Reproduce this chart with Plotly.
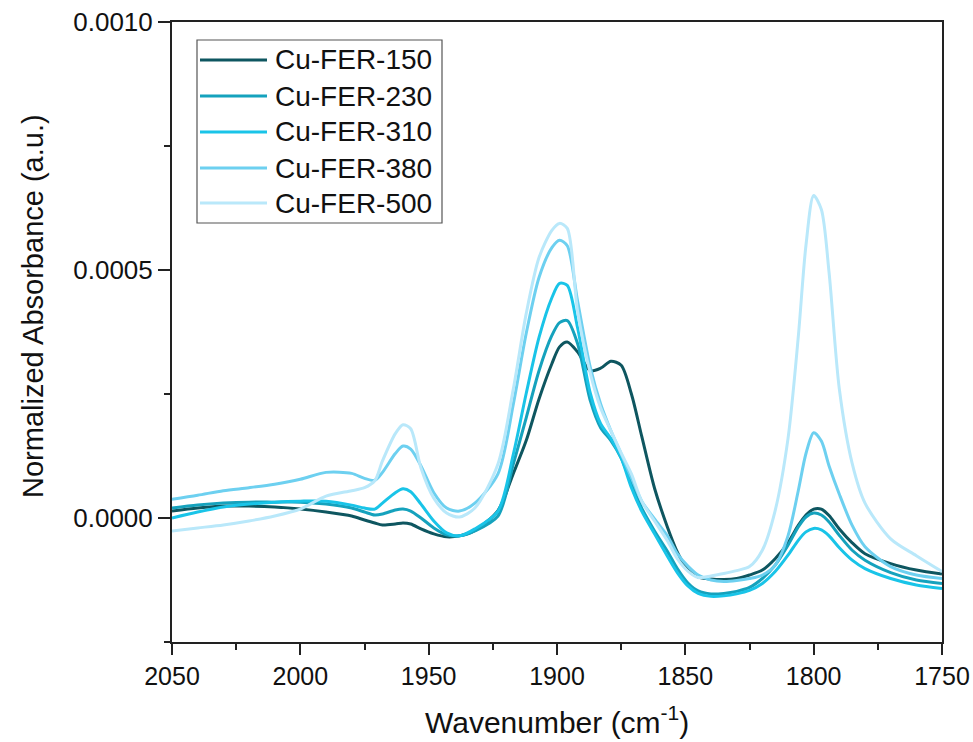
import numpy as np
import plotly.graph_objects as go

# Wavenumber grid (cm^-1), descending
wavenumber = [2050, 2040, 2030, 2020, 2010, 2000, 1990, 1980, 1975, 1971,
              1968, 1963, 1960, 1957, 1953, 1948, 1943, 1938, 1932, 1923,
              1917, 1912, 1907, 1902, 1899, 1896, 1892, 1887, 1883, 1879,
              1875, 1871, 1867, 1862, 1857, 1853, 1849, 1845, 1840, 1835,
              1830, 1825, 1820, 1815, 1810, 1806, 1803, 1800, 1797, 1794,
              1790, 1785, 1780, 1770, 1760, 1750]

# Normalized absorbance, in units of 1e-4
cu_fer_150 = [0.14, 0.20, 0.24, 0.24, 0.22, 0.18, 0.12, 0.04, -0.04, -0.10,
              -0.14, -0.12, -0.10, -0.12, -0.22, -0.32, -0.38, -0.36, -0.25, 0.15,
              0.90, 1.56, 2.40, 3.11, 3.45, 3.55, 3.35, 2.97, 3.02, 3.16,
              3.08, 2.50, 1.65, 0.60, -0.18, -0.70, -1.05, -1.19, -1.23, -1.24,
              -1.22, -1.15, -1.05, -0.82, -0.50, -0.15, 0.06, 0.18, 0.18, 0.05,
              -0.22, -0.50, -0.72, -0.92, -1.05, -1.13]

cu_fer_230 = [0.20, 0.26, 0.30, 0.32, 0.32, 0.32, 0.28, 0.20, 0.12, 0.06,
              0.08, 0.16, 0.18, 0.14, 0.00, -0.20, -0.34, -0.36, -0.26, 0.04,
              1.09, 2.02, 2.97, 3.68, 3.94, 3.98, 3.52, 2.36, 1.82, 1.56,
              1.21, 0.69, 0.20, -0.26, -0.67, -1.03, -1.31, -1.47, -1.53, -1.52,
              -1.48, -1.40, -1.22, -0.95, -0.55, -0.18, 0.02, 0.10, 0.06, -0.08,
              -0.35, -0.65, -0.85, -1.10, -1.25, -1.32]

cu_fer_310 = [0.00, 0.12, 0.22, 0.28, 0.32, 0.34, 0.34, 0.26, 0.20, 0.18,
              0.30, 0.51, 0.59, 0.53, 0.28, -0.06, -0.30, -0.36, -0.22, 0.14,
              1.29, 2.51, 3.64, 4.44, 4.73, 4.69, 3.84, 2.51, 1.90, 1.60,
              1.21, 0.61, 0.14, -0.32, -0.77, -1.11, -1.37, -1.52, -1.58, -1.57,
              -1.53, -1.46, -1.32, -1.08, -0.75, -0.45, -0.28, -0.21, -0.24, -0.36,
              -0.60, -0.85, -1.02, -1.22, -1.35, -1.42]

cu_fer_380 = [0.38, 0.46, 0.55, 0.61, 0.68, 0.78, 0.92, 0.90, 0.80, 0.76,
              0.92, 1.30, 1.45, 1.39, 1.05, 0.51, 0.20, 0.14, 0.30, 0.89,
              2.30, 3.72, 4.85, 5.45, 5.60, 5.49, 4.38, 3.03, 2.30, 1.76,
              1.29, 0.81, 0.34, -0.02, -0.36, -0.73, -0.97, -1.15, -1.25, -1.28,
              -1.26, -1.22, -1.15, -0.95, -0.36, 0.55, 1.30, 1.72, 1.55, 1.05,
              0.48, -0.15, -0.58, -0.98, -1.15, -1.22]

cu_fer_500 = [-0.26, -0.20, -0.14, -0.06, 0.04, 0.18, 0.44, 0.55, 0.61, 0.75,
              1.15, 1.70, 1.88, 1.80, 1.01, 0.40, 0.10, 0.02, 0.20, 1.09,
              2.61, 4.12, 5.25, 5.80, 5.94, 5.84, 4.18, 2.91, 2.22, 1.76,
              1.31, 0.89, 0.34, -0.06, -0.46, -0.83, -1.07, -1.20, -1.17, -1.12,
              -1.06, -0.98, -0.65, 0.15, 1.60, 3.65, 5.50, 6.50, 6.22, 4.95,
              2.60, 1.10, 0.30, -0.42, -0.76, -1.08]

series_names = ["Cu-FER-150", "Cu-FER-230", "Cu-FER-310", "Cu-FER-380", "Cu-FER-500"]
series_values = [cu_fer_150, cu_fer_230, cu_fer_310, cu_fer_380, cu_fer_500]
series_colors = ["#0e5660", "#15a2bd", "#19c4e8", "#6dd0f0", "#b9e8fa"]

y_tick_values = [0.0, 0.0005, 0.0010]
y_tick_labels = ["0.0000", "0.0005", "0.0010"]
x_tick_values = [2050, 2000, 1950, 1900, 1850, 1800, 1750]

FONT = "Arial, Liberation Sans, sans-serif"
W, H = 973, 742
ML, MR, MT, MB = 172, 31, 22, 100
PW, PH = W - ML - MR, H - MT - MB


def px_x(px):
    return (px - ML) / PW


def px_y(py):
    return (H - MB - py) / PH


fig = go.Figure()
for name, vals, col in zip(series_names, series_values, series_colors):
    fig.add_trace(go.Scatter(
        x=wavenumber, y=np.array(vals) * 1e-4, name=name, mode="lines",
        line=dict(color=col, width=3, shape="spline", smoothing=0.8),
        showlegend=False,
    ))

# Legend box drawn as shapes + text
shapes = [dict(type="rect", xref="paper", yref="paper",
               x0=px_x(197), x1=px_x(442), y0=px_y(223), y1=px_y(40),
               line=dict(color="#555555", width=1.2), fillcolor="white", layer="above")]
annotations = []
row_y = [60, 96, 132, 168, 203]
for name, col, ry in zip(series_names, series_colors, row_y):
    shapes.append(dict(type="line", xref="paper", yref="paper",
                       x0=px_x(200), x1=px_x(267), y0=px_y(ry), y1=px_y(ry),
                       line=dict(color=col, width=3), layer="above"))
    annotations.append(dict(xref="paper", yref="paper", x=px_x(273), y=px_y(ry),
                            text=name, showarrow=False, xanchor="left", yanchor="middle",
                            font=dict(family=FONT, size=28, color="#111111")))

# Axis titles
annotations.append(dict(xref="paper", yref="paper", x=0.5, y=px_y(720),
                        text="Wavenumber (cm<sup>-1</sup>)", showarrow=False,
                        xanchor="center", yanchor="middle",
                        font=dict(family=FONT, size=30, color="#111111")))
annotations.append(dict(xref="paper", yref="paper", x=px_x(33), y=px_y(306),
                        text="Normalized Absorbance (a.u.)", showarrow=False, textangle=-90,
                        xanchor="center", yanchor="middle",
                        font=dict(family=FONT, size=29, color="#111111")))

fig.update_layout(
    width=W, height=H,
    margin=dict(l=ML, r=MR, t=MT, b=MB, autoexpand=False),
    paper_bgcolor="white", plot_bgcolor="white",
    shapes=shapes, annotations=annotations,
    showlegend=False,
    font=dict(family=FONT, color="#111111"),
)

fig.update_xaxes(
    range=[2050, 1750], tickvals=x_tick_values,
    ticks="outside", ticklen=11, tickwidth=1.8, tickcolor="#222222",
    minor=dict(dtick=25, ticks="outside", ticklen=6, tickwidth=1.5, tickcolor="#222222"),
    showline=True, linecolor="#222222", linewidth=2, mirror=True,
    showgrid=False, zeroline=False,
    tickfont=dict(family=FONT, size=25, color="#111111"),
    automargin=False,
)
fig.update_yaxes(
    range=[-0.00025, 0.0010], tickvals=y_tick_values, ticktext=y_tick_labels,
    ticks="outside", ticklen=12, tickwidth=1.8, tickcolor="#222222",
    minor=dict(tickvals=[-0.00025, 0.00025, 0.00075], ticks="outside", ticklen=6,
               tickwidth=1.5, tickcolor="#222222"),
    showline=True, linecolor="#222222", linewidth=2, mirror=True,
    showgrid=False, zeroline=False,
    tickfont=dict(family=FONT, size=26, color="#111111"),
    automargin=False,
)

fig.write_html("out.html")
